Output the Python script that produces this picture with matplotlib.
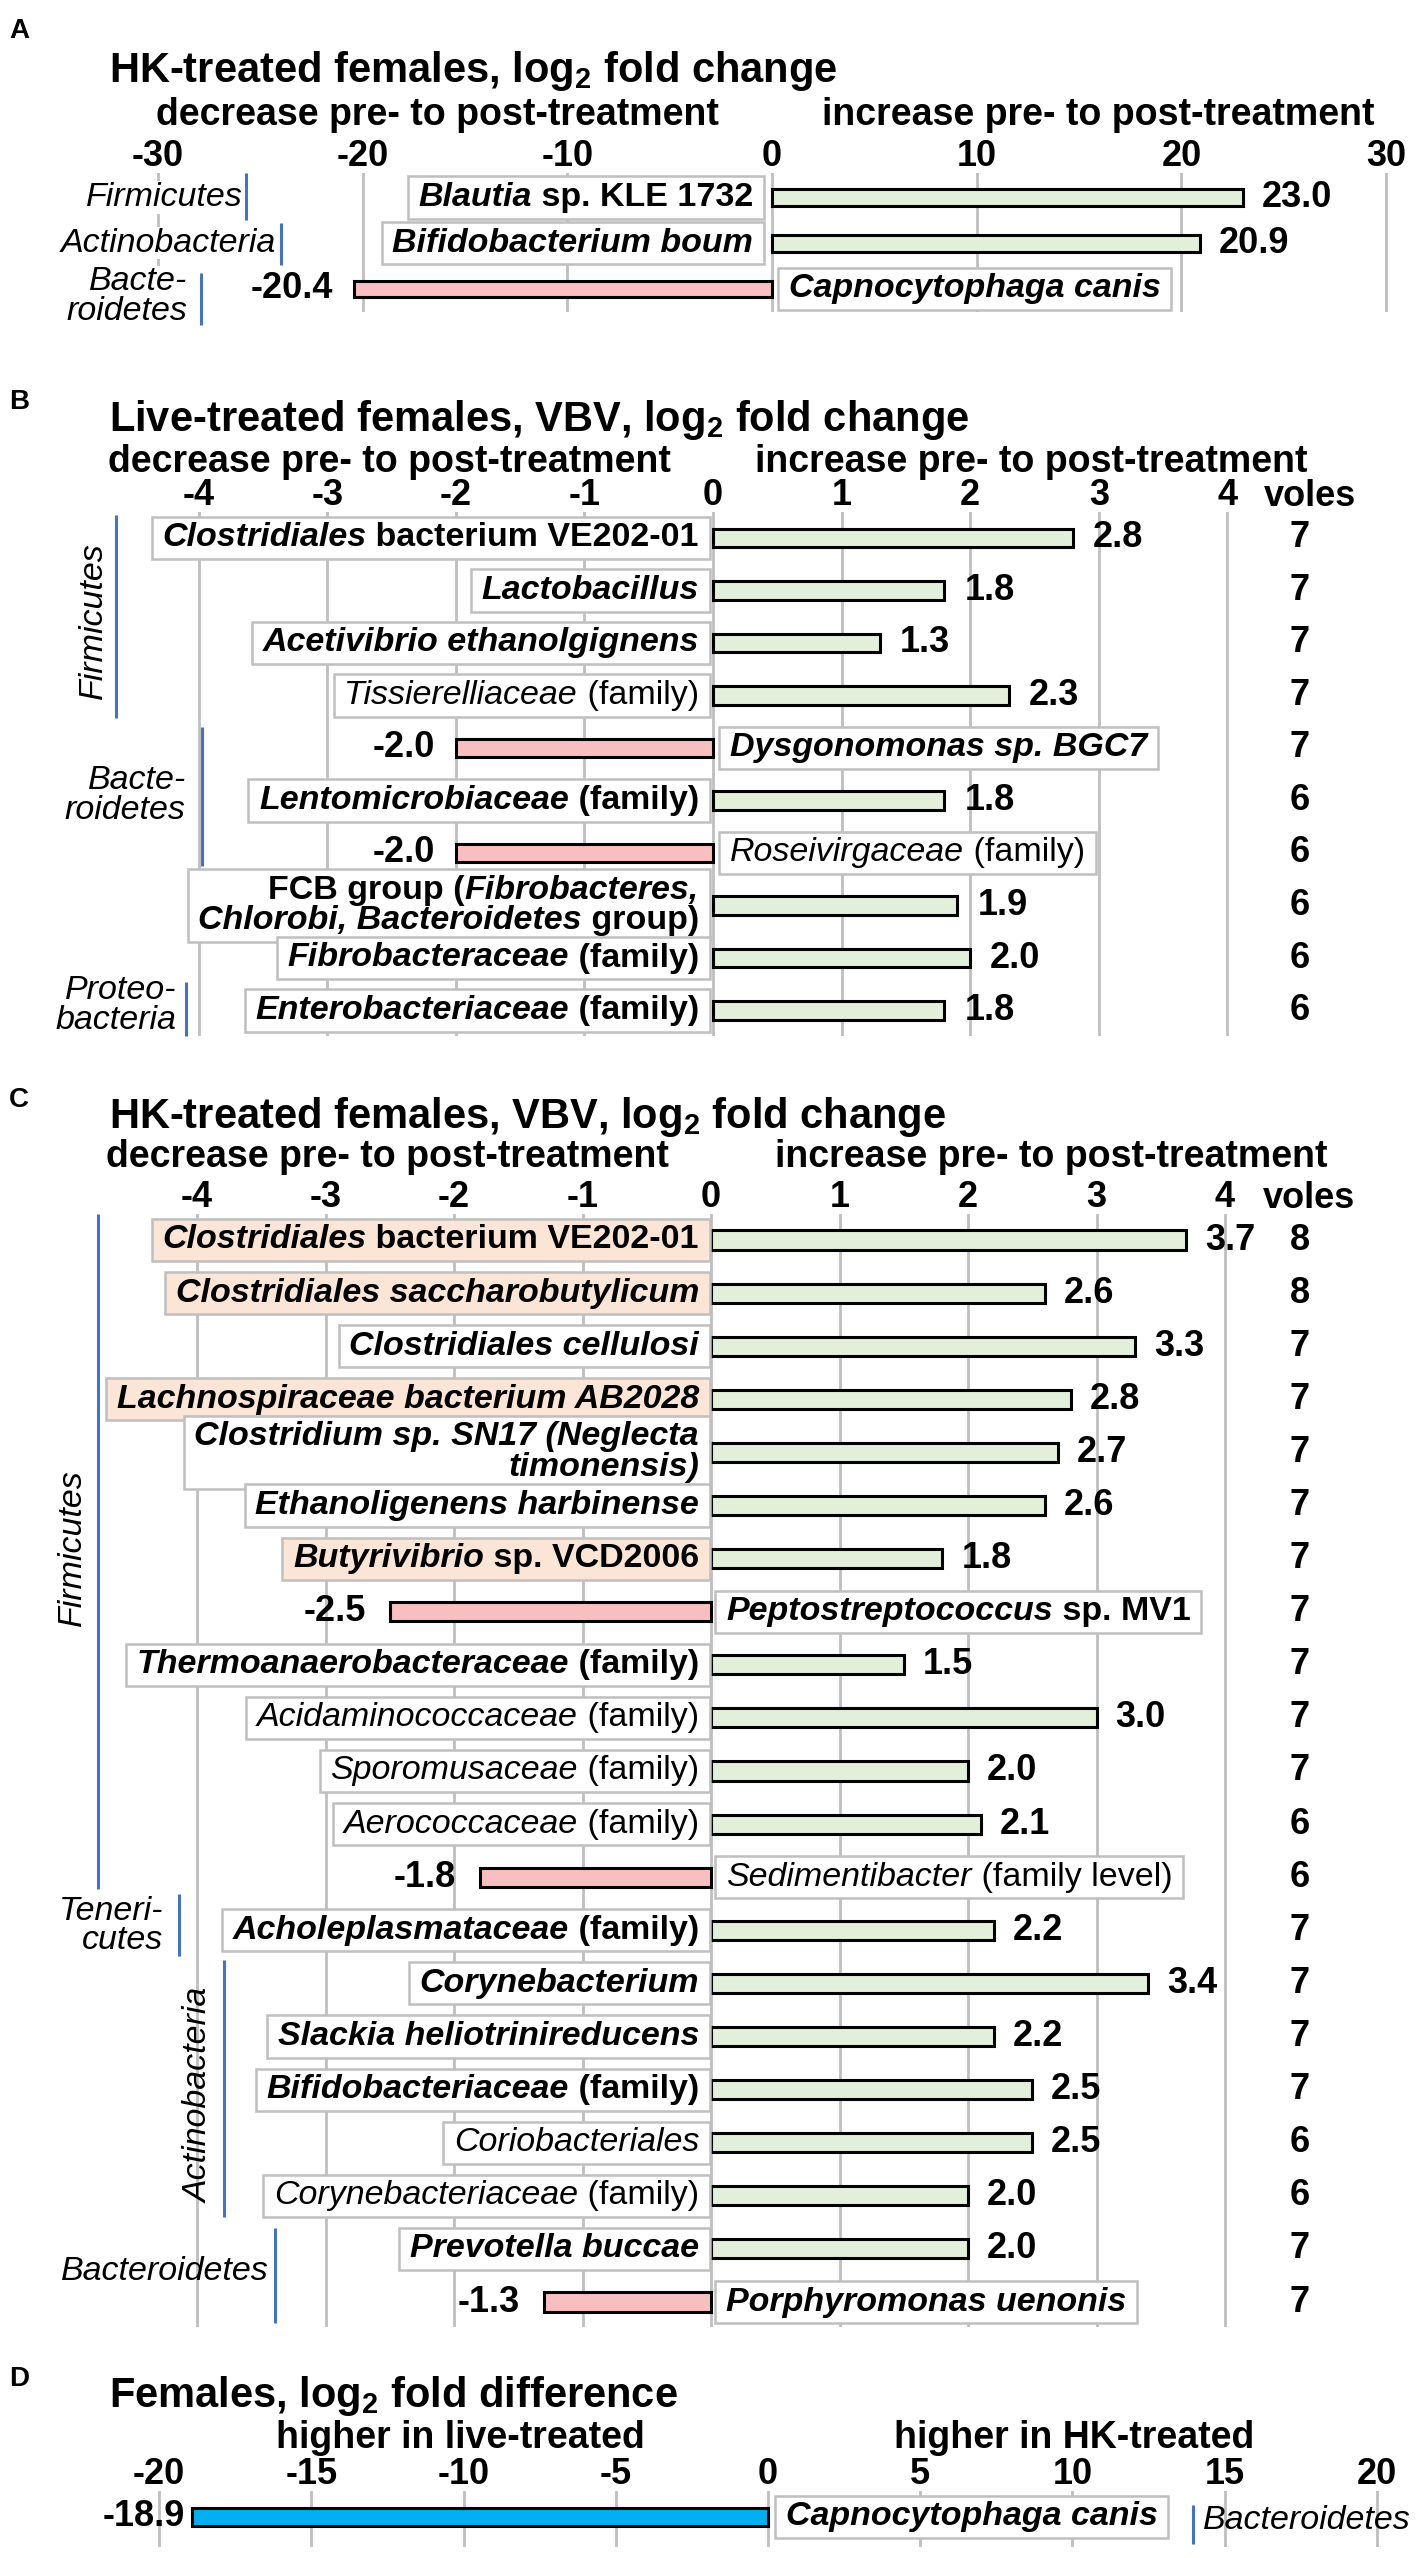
import matplotlib
matplotlib.use("Agg")
import matplotlib.pyplot as plt
from matplotlib.offsetbox import TextArea, HPacker, VPacker, DrawingArea, AnnotationBbox

plt.rcParams['font.family'] = ['Liberation Sans', 'DejaVu Sans']
plt.rcParams['axes.unicode_minus'] = False
plt.rcParams['mathtext.fontset'] = 'custom'
plt.rcParams['mathtext.rm'] = 'Liberation Sans:bold'
plt.rcParams['mathtext.bf'] = 'Liberation Sans:bold'
plt.rcParams['mathtext.it'] = 'Liberation Sans:bold:italic'
plt.rcParams['mathtext.default'] = 'rm'

# ---------------- data ----------------
A_labels = ["_Blautia_ sp. KLE 1732", "_Bifidobacterium boum_", "_Capnocytophaga canis_"]
A_bold = [True, True, True]
A_values = [23.0, 20.9, -20.4]
A_ticks = [-30, -20, -10, 0, 10, 20, 30]

B_labels = ["_Clostridiales_ bacterium VE202-01", "_Lactobacillus_", "_Acetivibrio ethanolgignens_",
            "_Tissierelliaceae_ (family)", "_Dysgonomonas sp. BGC7_", "_Lentomicrobiaceae_ (family)",
            "_Roseivirgaceae_ (family)", "FCB group (_Fibrobacteres,_\n_Chlorobi, Bacteroidetes_ group)",
            "_Fibrobacteraceae_ (family)", "_Enterobacteriaceae_ (family)"]
B_bold = [True, True, True, False, True, True, False, True, True, True]
B_values = [2.8, 1.8, 1.3, 2.3, -2.0, 1.8, -2.0, 1.9, 2.0, 1.8]
B_voles = [7, 7, 7, 7, 7, 6, 6, 6, 6, 6]
BC_ticks = [-4, -3, -2, -1, 0, 1, 2, 3, 4]

C_labels = ["_Clostridiales_ bacterium VE202-01", "_Clostridiales saccharobutylicum_",
            "_Clostridiales cellulosi_", "_Lachnospiraceae bacterium AB2028_",
            "_Clostridium sp. SN17 (Neglecta_\n_timonensis)_", "_Ethanoligenens harbinense_",
            "_Butyrivibrio_ sp. VCD2006", "_Peptostreptococcus_ sp. MV1",
            "_Thermoanaerobacteraceae_ (family)", "_Acidaminococcaceae_ (family)",
            "_Sporomusaceae_ (family)", "_Aerococcaceae_ (family)",
            "_Sedimentibacter_ (family level)", "_Acholeplasmataceae_ (family)",
            "_Corynebacterium_", "_Slackia heliotrinireducens_", "_Bifidobacteriaceae_ (family)",
            "_Coriobacteriales_", "_Corynebacteriaceae_ (family)", "_Prevotella buccae_",
            "_Porphyromonas uenonis_"]
C_bold = [True, True, True, True, True, True, True, True, True, False, False, False,
          False, True, True, True, True, False, False, True, True]
C_highlight = [True, True, False, True, False, False, True] + [False] * 14
C_values = [3.7, 2.6, 3.3, 2.8, 2.7, 2.6, 1.8, -2.5, 1.5, 3.0, 2.0, 2.1, -1.8, 2.2,
            3.4, 2.2, 2.5, 2.5, 2.0, 2.0, -1.3]
C_voles = [8, 8, 7, 7, 7, 7, 7, 7, 7, 7, 7, 6, 6, 7, 7, 7, 7, 6, 6, 7, 7]

D_labels = ["_Capnocytophaga canis_"]
D_bold = [True]
D_values = [-18.9]
D_ticks = [-20, -15, -10, -5, 0, 5, 10, 15, 20]

# ---------------- style ----------------
W, H, DPI = 1421, 2558, 100
GREEN = '#E2EFDA'
PINK = '#F8BFC1'
PEACH = '#FBE5D6'
CYAN = '#00B0F0'
GRID = '#BFBFBF'
BLUE = '#4472C4'
FS_LAB = 24.5
FS_VAL = 26
FS_TICK = 26
FS_SUB = 27
FS_TITLE = 30

fig = plt.figure(figsize=(W / DPI, H / DPI), dpi=DPI)


def px2pt(p):
    return p * 72.0 / DPI


def ftext(xpx, ypx, s, **kw):
    fig.text(xpx / W, 1 - ypx / H, s, **kw)


def make_axes(zero_px, unit_px, xlim, row0_px, row_px, top_px, bot_px, ticks):
    left = zero_px + xlim[0] * unit_px
    right = zero_px + xlim[1] * unit_px
    ax = fig.add_axes([left / W, 1 - bot_px / H, (right - left) / W, (bot_px - top_px) / H])
    ax.set_xlim(*xlim)
    ax.set_ylim((bot_px - row0_px) / row_px, (top_px - row0_px) / row_px)
    for s in ax.spines.values():
        s.set_visible(False)
    ax.set_yticks([])
    ax.xaxis.tick_top()
    ax.set_xticks(ticks)
    ax.set_xticklabels([str(t) for t in ticks], fontsize=FS_TICK, fontweight='bold')
    ax.tick_params(axis='x', length=0, pad=-1)
    ax.grid(axis='x', color=GRID, linewidth=2.0)
    ax.set_axisbelow(True)
    ax.patch.set_alpha(0)
    return ax


def label_box(ax, row, label, bold, side, gap_px, face='white'):
    lines = []
    for line in label.split('\n'):
        areas = []
        for k, part in enumerate(line.split('_')):
            if not part:
                continue
            areas.append(TextArea(part, textprops=dict(
                fontsize=FS_LAB, color='black',
                fontweight='bold' if bold else 'normal',
                fontstyle='italic' if k % 2 else 'normal')))
        lines.append(HPacker(children=areas, align='baseline', pad=0, sep=0))
    content = lines[0] if len(lines) == 1 else VPacker(children=lines, align='right', pad=0, sep=0)
    sp = px2pt(5)
    packed = HPacker(children=[DrawingArea(sp, 1), content, DrawingArea(sp, 1)],
                     align='center', pad=0, sep=0)
    if side == 'left':
        xybox, align = (-px2pt(gap_px), 0), (1, 0.5)
    else:
        xybox, align = (px2pt(gap_px), 0), (0, 0.5)
    ab = AnnotationBbox(packed, (0, row), xybox=xybox, xycoords='data',
                        boxcoords='offset points', box_alignment=align, frameon=True,
                        pad=0.4, fontsize=10,
                        bboxprops=dict(facecolor=face, edgecolor=GRID, linewidth=1.8),
                        zorder=4)
    ax.add_artist(ab)


def draw_panel(ax, values, labels, bolds, bar_h, gap_left, gap_right, vgap_pos, vgap_neg,
               faces=None, neg_color=PINK, pos_color=GREEN):
    rows = list(range(len(values)))
    colors = [pos_color if v > 0 else neg_color for v in values]
    ax.barh(rows, values, height=bar_h, color=colors, edgecolor='black', linewidth=2.2, zorder=3)
    for i, v in enumerate(values):
        face = faces[i] if faces else 'white'
        if v > 0:
            label_box(ax, i, labels[i], bolds[i], 'left', gap_left, face)
            ax.annotate(f"{v:.1f}", (v, i), xytext=(px2pt(vgap_pos), 0), textcoords='offset points',
                        ha='left', va='center', fontsize=FS_VAL, fontweight='bold', zorder=5)
        else:
            label_box(ax, i, labels[i], bolds[i], 'right', gap_right, face)
            ax.annotate(f"{v:.1f}", (v, i), xytext=(-px2pt(vgap_neg), 0), textcoords='offset points',
                        ha='right', va='center', fontsize=FS_VAL, fontweight='bold', zorder=5)


def voles(ax, counts, xnum, xhead):
    for i, n in enumerate(counts):
        ax.text(xnum, i, str(n), ha='center', va='center', fontsize=FS_VAL, fontweight='bold',
                clip_on=False)
    ax.annotate('voles', (xhead, 1), xycoords=ax.get_xaxis_transform(), xytext=(0, px2pt(6)),
                textcoords='offset points', ha='center', va='baseline', fontsize=FS_TICK,
                fontweight='bold', annotation_clip=False)


def phylum(ax, text, x_line, y0, y1, x_text, y_text, rotated=False, ha='right', white=False):
    ax.plot([x_line, x_line], [y0, y1], color=BLUE, linewidth=2.2, clip_on=False, zorder=2,
            solid_capstyle='butt')
    kw = dict(fontsize=FS_LAB, fontstyle='italic', clip_on=False, zorder=2)
    if white:
        kw['bbox'] = dict(facecolor='white', edgecolor='none', pad=0.5)
    if rotated:
        ax.text(x_text, y_text, text, rotation=90, ha='center', va='center', **kw)
    else:
        ax.text(x_text, y_text, text, ha=ha, va='center', multialignment=ha,
                linespacing=0.95, **kw)


def headers(letter, ly, title, ty, sub_left, sub_right, sy, cl, cr):
    ftext(9, ly, letter, fontsize=20, fontweight='bold', va='baseline')
    ftext(109, ty, title, fontsize=FS_TITLE, fontweight='bold', va='baseline')
    ftext(cl, sy, sub_left, fontsize=FS_SUB, fontweight='bold', va='baseline', ha='center')
    ftext(cr, sy, sub_right, fontsize=FS_SUB, fontweight='bold', va='baseline', ha='center')


DEC = "decrease pre- to post-treatment"
INC = "increase pre- to post-treatment"

# ---------------- panel A ----------------
headers('A', 38, "HK-treated females, log$_2$ fold change", 82, DEC, INC, 125, 437, 1098)
axA = make_axes(772, 20.47, (-31, 31), 197.5, 45.75, 173, 312, A_ticks)
draw_panel(axA, A_values, A_labels, A_bold, 0.37, 14, 12, 19, 21)
phylum(axA, "Firmicutes", -25.7, -0.54, 0.49, -25.84, 0.0, white=True)
phylum(axA, "Actinobacteria", -24.0, 0.56, 1.48, -24.23, 1.0, white=True)
phylum(axA, "Bacte-\nroidetes", -27.9, 1.65, 2.79, -28.58, 2.17, white=True)

# ---------------- panel B ----------------
headers('B', 409, "Live-treated females, VBV, log$_2$ fold change", 431, DEC, INC, 472, 389, 1031)
axB = make_axes(713, 128.6, (-4.5, 4.5), 538, 52.5, 512, 1036, BC_ticks)
draw_panel(axB, B_values, B_labels, B_bold, 0.36, 9, 12, 20, 21)
voles(axB, B_voles, 4.56, 4.64)
phylum(axB, "Firmicutes", -4.64, -0.44, 3.43, -4.82, 1.58, rotated=True)
phylum(axB, "Bacte-\nroidetes", -3.97, 3.6, 6.25, -4.10, 4.91)
phylum(axB, "Proteo-\nbacteria", -4.10, 8.46, 9.49, -4.17, 8.91)

# ---------------- panel C ----------------
headers('C', 1107, "HK-treated females, VBV, log$_2$ fold change", 1128, DEC, INC, 1167, 387, 1051)
axC = make_axes(711, 128.5, (-4.5, 4.5), 1240, 53.1, 1214, 2327, BC_ticks)
draw_panel(axC, C_values, C_labels, C_bold, 0.36, 7, 10, 19, 24,
           faces=[PEACH if h else 'white' for h in C_highlight])
voles(axC, C_voles, 4.58, 4.65)
phylum(axC, "Firmicutes", -4.77, -0.49, 12.22, -4.97, 5.8, rotated=True)
phylum(axC, "Teneri-\ncutes", -4.14, 12.32, 13.48, -4.26, 12.92)
phylum(axC, "Actinobacteria", -3.79, 13.56, 18.4, -3.98, 16.1, rotated=True)
phylum(axC, "Bacteroidetes", -3.39, 18.6, 20.4, -3.44, 19.42)

# ---------------- panel D ----------------
headers('D', 2386, "Females, log$_2$ fold difference", 2407,
        "higher in live-treated", "higher in HK-treated", 2448, 460, 1074)
axD = make_axes(768, 30.45, (-21, 21), 2517, 45, 2491, 2547, D_ticks)
draw_panel(axD, D_values, D_labels, D_bold, 0.4, 13, 13, 19, 7, neg_color=CYAN)
phylum(axD, "Bacteroidetes", 13.96, -0.27, 0.6, 14.3, 0.07, ha='left')

fig.savefig("out.png", dpi=DPI)
